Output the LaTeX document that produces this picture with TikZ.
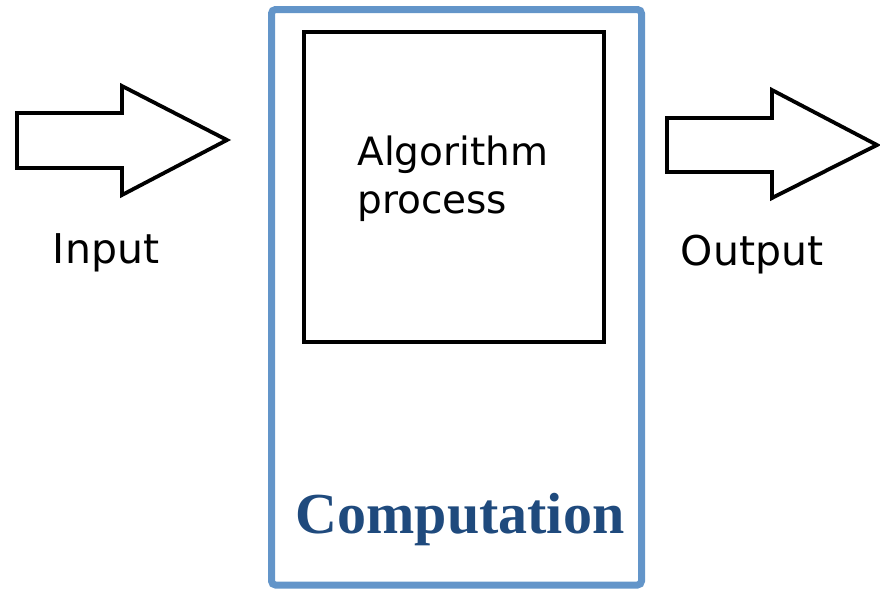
\documentclass[tikz,border=0pt]{standalone}
\usepackage{fontspec}
\setmainfont{DejaVu Sans}
\newfontfamily\titlefont{Liberation Serif}
\usetikzlibrary{positioning}
\definecolor{framecolor}{HTML}{6395C9}
\definecolor{titlecolor}{HTML}{1F4A7D}
\tikzset{
    frame style/.style={draw=framecolor,line width=3.5pt,rounded corners=2pt},
    box style/.style={draw=black,line width=1.8pt},
    fat arrow/.style={draw=black,line width=1.9pt,line join=miter,fill=white},
    label text/.style={font=\fontsize{20.5}{24}\selectfont,inner sep=0pt,anchor=base},
}
\begin{document}
\begin{tikzpicture}[x=0.5pt,y=-0.5pt]
        \useasboundingbox (0,0) rectangle (880,590);
        % frame and process box
        \draw[frame style] (271.5,9.5) rectangle (641.5,585);
        \draw[box style] (304,32) rectangle (604,342);
        % fat arrows
        \draw[fat arrow] (17,113) -- (122,113) -- (122,86) -- (227,140) -- (122,195) -- (122,168) -- (17,168) -- cycle;
        \draw[fat arrow] (667,118) -- (772,118) -- (772,90) -- (877,145) -- (772,198) -- (772,172) -- (667,172) -- cycle;
        % texts
        \node[label text] (input) at (106,263) {Input};
        \node[label text] (output) at (752,265) {Output};
        \node[label text,font=\fontsize{19.5}{24}\selectfont,align=left,anchor=base west] (algo) at (357,213) {Algorithm\\process};
        \node[inner sep=0pt,anchor=base,text=titlecolor,font=\titlefont\bfseries\fontsize{29}{34}\selectfont] (comp) at (460,533) {Computation};
    \end{tikzpicture}
\end{document}
